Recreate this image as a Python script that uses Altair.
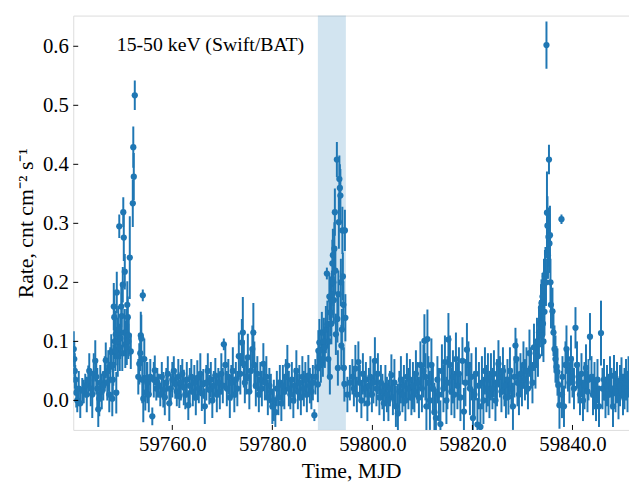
import altair as alt
import pandas as pd

# ---- data (MJD, rate, 1-sigma error) ----
mjd = [
 59740.3,59740.4,59740.5,59740.6,59740.8,59741.0,59741.3,59741.6,59742.0,59742.3,59742.6,59742.9,59743.2,59743.4,59743.7,
 59744.0,59744.3,59744.6,59744.8,59745.0,59745.2,59745.4,59745.6,59745.9,59746.2,59746.5,59746.7,59747.0,59747.2,59747.4,59747.6,
 59747.8,59748.0,59748.1,59748.2,59748.3,59748.4,59748.5,59748.6,59748.7,59748.8,59748.9,59749.0,59749.1,59749.2,59749.4,59749.5,
 59749.6,59749.8,59749.9,59750.0,59750.1,59750.2,59750.3,59750.4,59750.5,59750.6,59750.8,59750.9,59751.0,59751.1,59751.2,59751.3,
 59751.5,59751.7,59752.1,59752.2,59752.3,59752.5,
 59753.2,59753.4,59753.6,59753.7,59753.8,59754.0,59754.1,59754.2,59754.4,59754.6,59754.8,59755.0,59755.3,59755.6,59756.0,59756.3,
 59756.5,59756.8,59757.0,
 59757.3,59757.6,59757.9,59758.2,59758.5,59758.8,59759.1,59759.4,59759.7,59760.0,59760.3,59760.6,59760.9,59761.2,59761.4,59761.7,
 59762.0,59762.3,59762.6,59762.9,59763.2,59763.5,59763.8,59764.1,59764.4,59764.7,59765.0,59765.3,59765.6,59765.9,59766.2,59766.5,
 59766.8,59767.1,59767.4,59767.7,59768.0,59768.3,59768.6,59768.9,59769.2,59769.5,59769.8,59770.1,59770.3,59770.6,59770.9,59771.2,
 59771.5,59771.8,59772.1,59772.4,59772.7,59773.0,59773.3,59773.6,59773.9,59774.1,59774.3,59774.5,59774.8,59775.1,59775.4,59775.7,
 59776.0,59776.2,59776.4,59776.7,59777.0,59777.3,59777.6,59777.9,59778.2,59778.5,59778.8,59779.1,59779.4,59779.7,59780.0,59780.3,
 59780.6,59780.9,59781.2,59781.5,59781.8,59782.1,59782.4,59782.7,59783.0,59783.3,59783.6,59783.9,59784.2,59784.5,59784.8,59785.1,
 59785.4,59785.7,59786.0,59786.3,59786.6,59786.9,59787.2,59787.5,59787.8,59788.1,59788.4,59788.6,
 59789.0,59789.1,59789.2,59789.4,59789.5,59789.7,59789.9,59790.1,59790.3,59790.5,59790.7,59790.9,59791.0,59791.2,59791.3,59791.4,
 59791.5,59791.6,59791.7,59791.8,59791.9,59792.0,59792.1,59792.2,59792.3,59792.4,59792.5,59792.6,59792.7,59792.9,59793.0,59793.1,
 59793.2,59793.3,59793.4,59793.5,59793.6,59793.7,59793.8,59793.9,59794.0,59794.1,59794.2,59794.3,59794.4,59794.5,59794.6,
 59795.0,59795.5,59796.0,59796.3,59796.6,59796.9,59797.2,59797.5,59797.8,59798.1,59798.4,59798.7,59799.0,59799.3,59799.6,59799.9,
 59800.2,59800.5,59800.8,59801.1,59801.4,59801.7,59802.0,59802.3,59802.6,59802.9,59803.2,59803.5,59803.8,59804.1,59804.4,59804.7,
 59805.1,59805.4,59805.7,59806.0,59806.3,59806.6,59806.9,59807.2,59807.5,59807.8,59808.1,59808.4,59808.7,59809.0,59809.3,59809.6,
 59809.9,59810.2,59810.4,59810.6,59810.8,59811.0,59811.2,59811.5,59811.8,59812.1,59812.4,59812.7,59813.0,59813.3,59813.6,59813.9,
 59814.2,59814.5,59814.8,59815.0,59815.2,59815.5,59815.8,59816.1,59816.4,59816.7,59817.0,59817.3,59817.6,59818.0,59818.3,59818.6,
 59818.9,59819.2,59819.5,59819.8,59820.1,59820.4,59820.7,59821.0,59821.3,59821.6,59821.9,59822.2,59822.5,59822.8,59823.1,59823.4,
 59823.7,59824.0,59824.3,59824.6,59824.9,59825.2,59825.5,59825.8,59826.1,59826.4,59826.7,59827.0,59827.2,59827.5,59827.8,59828.1,
 59828.4,59828.6,59828.8,59829.0,59829.3,59829.6,59829.9,59830.2,59830.5,59830.8,59831.1,59831.4,59831.7,59832.0,59832.3,59832.6,
 59832.9,59833.1,59833.3,59833.5,59833.7,59833.8,59833.9,59834.0,59834.1,59834.2,59834.3,59834.4,59834.5,59834.6,59834.7,59834.8,
 59834.9,59835.0,59835.1,59835.2,59835.3,59835.4,59835.5,59835.6,59835.7,59836.0,59836.2,59836.4,59836.6,59836.8,59837.0,59837.2,
 59837.4,59837.8,59837.9,59838.0,59838.3,59838.6,59838.8,59839.1,59839.4,59839.7,59840.0,59840.3,59840.6,59840.9,59841.2,59841.5,
 59841.8,59842.1,59842.4,59842.7,59843.0,59843.2,59843.5,59843.8,59844.1,59844.4,59844.7,59845.0,59845.3,59845.7,59846.0,59846.3,
 59846.6,59846.9,59847.2,59847.5,59847.8,59848.1,59848.3,59848.6,59848.9,59849.2,59849.5,59849.8,59850.1,59850.4,59850.7,59851.0,
 59851.2,
]
rate = [
 0.087,0.070,0.050,0.035,0.013,0.000,0.020,-0.005,0.018,0.015,0.025,0.010,0.034,0.050,0.020,
 0.010,0.045,0.067,0.040,0.020,-0.015,0.003,0.030,0.015,0.025,0.045,0.068,0.030,0.050,0.010,0.060,
 0.082,0.003,0.035,0.060,0.159,0.141,0.100,0.085,0.112,0.013,0.183,0.100,0.075,0.120,0.295,0.090,
 0.105,0.159,0.143,0.080,0.196,0.319,0.276,0.115,0.218,0.095,0.115,0.090,0.162,0.141,0.100,0.110,
 0.242,0.083,0.334,0.429,0.379,0.517,
 0.040,0.062,0.080,0.110,0.105,0.035,0.178,0.003,0.070,0.013,0.035,0.030,0.010,0.040,-0.027,0.035,
 0.051,0.020,0.030,
 0.025,0.010,0.040,0.018,0.005,0.030,0.045,-0.005,0.020,0.035,0.050,0.028,0.015,0.040,0.007,0.030,
 0.045,0.022,0.010,0.035,-0.008,0.025,0.040,0.015,0.030,0.005,0.038,0.020,0.045,0.012,0.028,-0.010,
 0.030,0.050,0.018,0.035,0.000,0.025,0.042,0.010,0.030,0.015,0.045,0.025,0.095,0.060,0.020,0.040,
 0.005,0.030,0.050,0.010,0.035,0.020,0.075,0.045,0.098,0.115,0.062,0.030,0.040,0.073,0.015,0.050,
 0.087,0.115,0.060,0.025,0.045,0.010,0.035,0.020,0.062,0.030,0.040,0.005,0.025,0.015,-0.010,0.000,
 -0.020,0.020,0.005,0.030,-0.005,0.025,0.015,0.040,0.059,0.020,0.010,0.035,0.000,0.025,0.050,0.015,
 0.030,0.005,0.040,0.020,0.035,0.010,0.042,0.025,0.015,0.030,-0.025,0.040,
 0.056,0.027,0.084,0.098,0.085,0.060,0.115,0.070,0.100,0.090,0.120,0.215,0.129,0.070,0.100,0.176,
 0.040,0.149,0.170,0.130,0.180,0.232,0.246,0.200,0.170,0.257,0.319,0.220,0.112,0.408,0.138,0.055,
 0.180,0.302,0.375,0.360,0.347,0.200,0.093,0.120,0.288,0.210,0.162,0.055,0.028,0.288,0.140,
 0.010,0.030,0.040,0.020,0.054,0.010,0.065,0.030,0.000,0.045,0.020,0.035,-0.005,0.025,0.040,0.010,
 0.030,0.067,0.020,0.045,0.005,0.030,0.015,-0.005,0.025,0.010,0.000,0.020,0.043,0.005,0.030,-0.010,
 -0.022,0.015,0.035,0.010,0.025,0.000,0.040,0.020,0.035,0.005,0.025,0.015,0.045,0.030,0.005,0.060,
 0.020,0.050,0.101,0.040,-0.010,0.104,0.030,0.000,0.060,0.020,-0.020,-0.030,0.035,0.010,-0.040,0.050,
 0.020,0.065,0.000,0.030,0.103,0.060,0.015,0.040,0.010,0.070,0.025,0.045,0.005,0.067,-0.019,0.030,
 0.086,0.060,0.020,0.040,-0.030,0.010,0.045,-0.041,0.025,-0.045,0.030,0.000,0.050,0.020,0.035,0.010,
 0.040,0.020,0.045,0.000,0.030,0.062,0.040,0.015,0.050,0.025,0.005,0.035,0.006,0.050,0.020,-0.010,
 0.040,0.093,0.070,0.030,0.010,0.045,0.025,0.060,0.035,0.050,0.020,0.080,0.055,0.030,0.090,0.060,
 0.100,0.075,0.115,0.130,0.157,0.165,0.110,0.176,0.130,0.100,0.195,0.150,0.210,0.215,0.200,0.602,
 0.318,0.296,0.246,0.277,0.408,0.266,0.280,0.200,0.162,0.151,0.115,0.087,0.070,0.057,0.048,0.026,
 -0.008,0.307,0.010,0.040,-0.010,0.060,0.087,0.050,0.030,0.070,0.040,0.020,0.123,0.060,0.030,0.010,
 0.045,0.000,0.025,0.055,0.015,0.035,0.108,0.040,0.010,0.025,0.000,0.035,-0.010,0.114,0.020,0.035,
 0.005,0.025,0.010,0.040,0.020,-0.010,0.042,0.015,0.030,0.003,0.025,0.038,0.010,0.020,0.035,0.015,
 0.040,
]
err = [
 0.030,0.030,0.030,0.025,0.025,0.020,0.030,0.025,0.020,0.020,0.020,0.030,0.025,0.030,0.030,
 0.040,0.035,0.035,0.030,0.035,0.030,0.030,0.030,0.030,0.025,0.030,0.030,0.030,0.035,0.030,0.030,
 0.030,0.030,0.030,0.035,0.040,0.040,0.030,0.035,0.040,0.035,0.035,0.040,0.035,0.040,0.020,0.040,
 0.035,0.035,0.040,0.030,0.030,0.025,0.040,0.040,0.030,0.040,0.040,0.030,0.040,0.035,0.030,0.035,
 0.070,0.030,0.040,0.035,0.040,0.025,
 0.030,0.035,0.030,0.040,0.040,0.040,0.010,0.040,0.035,0.030,0.030,0.035,0.030,0.030,0.015,0.030,
 0.025,0.020,0.025,
 0.020,0.020,0.025,0.030,0.030,0.025,0.030,0.030,0.025,0.030,0.025,0.025,0.025,0.030,0.020,0.030,
 0.025,0.030,0.025,0.030,0.025,0.030,0.030,0.025,0.030,0.030,0.030,0.025,0.035,0.030,0.025,0.030,
 0.030,0.030,0.025,0.030,0.030,0.025,0.030,0.030,0.025,0.030,0.035,0.030,0.010,0.035,0.030,0.030,
 0.035,0.030,0.040,0.030,0.030,0.030,0.040,0.035,0.040,0.060,0.040,0.035,0.030,0.040,0.030,0.035,
 0.040,0.050,0.040,0.035,0.030,0.030,0.030,0.030,0.035,0.030,0.035,0.030,0.030,0.030,0.030,0.035,
 0.025,0.030,0.030,0.030,0.030,0.035,0.030,0.030,0.035,0.030,0.025,0.030,0.030,0.030,0.035,0.030,
 0.030,0.030,0.035,0.030,0.030,0.030,0.035,0.030,0.030,0.030,0.010,0.030,
 0.030,0.030,0.035,0.040,0.035,0.030,0.035,0.030,0.040,0.035,0.040,0.010,0.040,0.030,0.035,0.040,
 0.030,0.040,0.040,0.035,0.040,0.040,0.045,0.040,0.040,0.045,0.040,0.040,0.035,0.030,0.040,0.030,
 0.040,0.045,0.040,0.040,0.045,0.040,0.035,0.035,0.040,0.040,0.040,0.035,0.030,0.035,0.040,
 0.030,0.030,0.030,0.030,0.040,0.030,0.035,0.030,0.030,0.035,0.030,0.030,0.030,0.030,0.035,0.030,
 0.035,0.040,0.030,0.035,0.030,0.030,0.030,0.030,0.035,0.030,0.035,0.030,0.035,0.030,0.040,0.035,
 0.050,0.035,0.040,0.030,0.035,0.035,0.040,0.035,0.035,0.030,0.040,0.035,0.040,0.035,0.035,0.040,
 0.040,0.045,0.045,0.040,0.050,0.050,0.045,0.050,0.045,0.040,0.050,0.050,0.040,0.045,0.040,0.045,
 0.040,0.045,0.040,0.045,0.045,0.050,0.040,0.045,0.040,0.045,0.040,0.045,0.040,0.040,0.040,0.040,
 0.045,0.040,0.045,0.040,0.050,0.040,0.045,0.045,0.040,0.040,0.045,0.040,0.040,0.040,0.045,0.040,
 0.040,0.035,0.040,0.035,0.040,0.040,0.035,0.035,0.040,0.035,0.035,0.035,0.030,0.040,0.035,0.040,
 0.035,0.030,0.035,0.040,0.035,0.035,0.035,0.040,0.035,0.040,0.035,0.040,0.035,0.035,0.040,0.040,
 0.040,0.035,0.040,0.040,0.040,0.040,0.035,0.040,0.040,0.035,0.045,0.040,0.045,0.045,0.040,0.040,
 0.070,0.050,0.040,0.050,0.025,0.050,0.050,0.040,0.040,0.040,0.040,0.040,0.040,0.035,0.040,0.035,
 0.040,0.008,0.040,0.035,0.035,0.040,0.040,0.035,0.035,0.040,0.035,0.035,0.035,0.040,0.035,0.035,
 0.035,0.035,0.040,0.040,0.035,0.035,0.040,0.035,0.035,0.040,0.035,0.035,0.035,0.055,0.035,0.035,
 0.035,0.035,0.035,0.035,0.035,0.035,0.035,0.035,0.035,0.035,0.035,0.035,0.035,0.035,0.035,0.035,
 0.035,
]

band_start = [59789.1]
band_end = [59794.7]
x_ticks = [59760, 59780, 59800, 59820, 59840]
y_ticks = [0.0, 0.1, 0.2, 0.3, 0.4, 0.5, 0.6]
label_text = ["15-50 keV (Swift/BAT)"]

n = min(len(mjd), len(rate), len(err))
df = pd.DataFrame({"mjd": mjd[:n], "rate": rate[:n], "err": err[:n]})
df["lo"] = df["rate"] - df["err"]
df["hi"] = df["rate"] + df["err"]

W, H = 562, 419
FONT = "Liberation Serif"
BLUE = "#1f77b4"

xscale = alt.Scale(domain=[59740.2, 59851.3], nice=False, zero=False)
yscale = alt.Scale(domain=[-0.05, 0.652], nice=False, zero=False)

xaxis = alt.Axis(values=x_ticks, format=".1f", tickSize=0, grid=False, domain=False,
                 labelFont=FONT, labelFontSize=21, labelColor="black", labelPadding=4,
                 title="Time, MJD", titleFont=FONT, titleFontSize=22, titleFontWeight="normal",
                 titleColor="black", titlePadding=6)
yaxis = alt.Axis(values=y_ticks, format=".1f", tickSize=0, grid=False, domain=False,
                 labelFont=FONT, labelFontSize=21, labelColor="black", labelPadding=5,
                 title="Rate, cnt cm⁻² s⁻¹", titleFont=FONT, titleFontSize=22,
                 titleFontWeight="normal", titleColor="black", titlePadding=5)

band = alt.Chart(pd.DataFrame({"a": band_start, "b": band_end})).mark_rect(
    color=BLUE, opacity=0.2).encode(
    x=alt.X("a:Q", scale=xscale, axis=xaxis), x2="b:Q")

base = alt.Chart(df)
bars = base.mark_rule(color=BLUE, strokeWidth=2, clip=True).encode(
    x=alt.X("mjd:Q", scale=xscale, axis=xaxis),
    y=alt.Y("lo:Q", scale=yscale, axis=yaxis), y2="hi:Q")
pts = base.mark_circle(color=BLUE, size=40, opacity=1, clip=True).encode(
    x=alt.X("mjd:Q", scale=xscale, axis=xaxis),
    y=alt.Y("rate:Q", scale=yscale, axis=yaxis))

xt = alt.Chart(pd.DataFrame({"v": x_ticks})).mark_rule(color="black", strokeWidth=1).encode(
    x=alt.X("v:Q", scale=xscale, axis=xaxis), y=alt.value(H), y2=alt.value(H - 5))
yt = alt.Chart(pd.DataFrame({"v": y_ticks})).mark_rule(color="black", strokeWidth=1).encode(
    y=alt.Y("v:Q", scale=yscale, axis=yaxis), x=alt.value(0), x2=alt.value(5))

txt = alt.Chart(pd.DataFrame({"t": label_text})).mark_text(
    align="left", baseline="middle", font=FONT, fontSize=20, color="black").encode(
    x=alt.value(44), y=alt.value(30), text="t:N")

chart = alt.layer(band, bars, pts, xt, yt, txt).properties(
    width=W, height=H,
    autosize=alt.AutoSizeParams(type="none"),
    padding={"left": 66, "top": 5, "right": 0, "bottom": 50},
).configure_view(stroke="#222222", strokeWidth=1).configure(background="white")

chart.save("out.html", embed_options={"renderer": "svg", "actions": False})
